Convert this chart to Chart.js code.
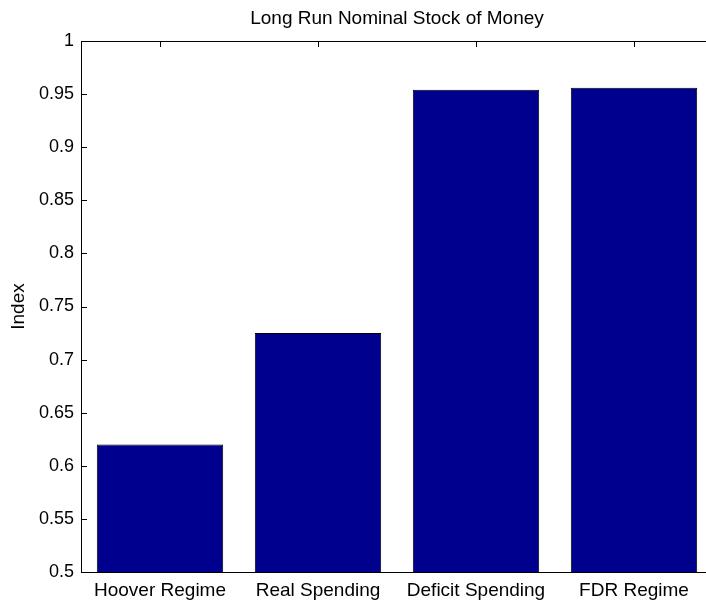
<!DOCTYPE html>
<html>
<head>
<meta charset="utf-8">
<script src="https://cdn.jsdelivr.net/npm/chart.js@4/dist/chart.umd.min.js"></script>
<style>
  html, body { margin: 0; padding: 0; background: #fff; overflow: hidden; }
  #wrap { width: 714px; height: 605px; }
</style>
</head>
<body>
<div id="wrap"><canvas id="moneyChart"></canvas></div>
<script>
// Data
const categories = ["Hoover Regime", "Real Spending", "Deficit Spending", "FDR Regime"];
const indexValues = [0.62, 0.725, 0.954, 0.956];
const yTicks = [0.5, 0.55, 0.6, 0.65, 0.7, 0.75, 0.8, 0.85, 0.9, 0.95, 1];

Chart.defaults.font.family = "'Liberation Sans', Arial, sans-serif";
Chart.defaults.color = "#000";

// MATLAB-style box with inward ticks
const axesBox = {
  id: "axesBox",
  beforeDatasetsDraw(chart) {
    const { ctx, chartArea: a, scales } = chart;
    ctx.save();
    ctx.strokeStyle = "#000";
    ctx.lineWidth = 1;
    ctx.beginPath();
    yTicks.forEach((v) => {
      const y = Math.round(scales.y.getPixelForValue(v)) + 0.5;
      ctx.moveTo(a.left, y);
      ctx.lineTo(a.left + 6, y);
      ctx.moveTo(a.right, y);
      ctx.lineTo(a.right - 6, y);
    });
    categories.forEach((c, i) => {
      const x = Math.round(scales.x.getPixelForValue(i)) + 0.5;
      ctx.moveTo(x, a.top);
      ctx.lineTo(x, a.top + 6);
      ctx.moveTo(x, a.bottom);
      ctx.lineTo(x, a.bottom - 6);
    });
    ctx.stroke();
    ctx.restore();
  },
  afterDatasetsDraw(chart) {
    const { ctx, chartArea: a } = chart;
    ctx.save();
    ctx.strokeStyle = "#000";
    ctx.lineWidth = 1;
    ctx.strokeRect(Math.round(a.left) + 0.5, Math.round(a.top) + 0.5,
      Math.round(a.right - a.left), Math.round(a.bottom - a.top));
    ctx.restore();
  },
};

new Chart(document.getElementById("moneyChart"), {
  type: "bar",
  data: {
    labels: categories,
    datasets: [
      {
        data: indexValues,
        backgroundColor: "#00008F",
        borderColor: "#000",
        borderWidth: 1,
        barPercentage: 0.8,
        categoryPercentage: 1.0,
      },
    ],
  },
  options: {
    responsive: true,
    maintainAspectRatio: false,
    animation: false,
    layout: { padding: { left: 0, right: 1, top: 0, bottom: 0 } },
    plugins: {
      legend: { display: false },
      tooltip: { enabled: false },
      title: {
        display: true,
        fullSize: false, // centre over the plot area, as MATLAB does
        text: "Long Run Nominal Stock of Money",
        font: { size: 19, weight: "normal" },
        color: "#000",
        padding: { top: 7.5, bottom: 10.7 },
      },
    },
    scales: {
      x: {
        grid: { display: false, drawTicks: false },
        border: { display: false },
        ticks: { font: { size: 19 }, padding: 7, maxRotation: 0, autoSkip: false },
        afterFit(scale) { scale.height = 33; },
      },
      y: {
        min: 0.5,
        max: 1,
        grid: { display: false, drawTicks: false },
        border: { display: false },
        afterBuildTicks(scale) {
          scale.ticks = yTicks.map((v) => ({ value: v }));
        },
        ticks: {
          font: { size: 18 },
          padding: 7,
          callback: (v) => String(parseFloat(Number(v).toFixed(2))),
        },
        title: {
          display: true,
          text: "Index",
          font: { size: 19 },
          padding: { top: 7, bottom: 0 },
        },
        afterFit(scale) { scale.width = 81; },
      },
    },
  },
  plugins: [axesBox],
});
</script>
</body>
</html>
